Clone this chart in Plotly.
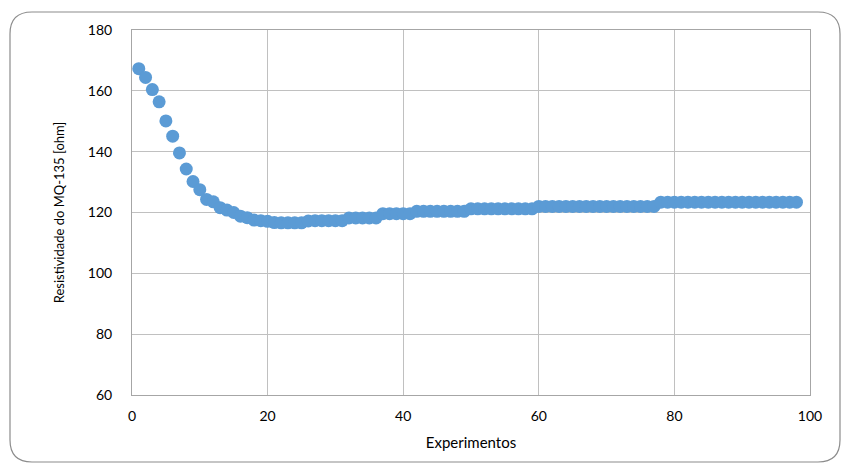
import plotly.graph_objects as go

experimentos = list(range(1, 99))
resistividade = (
    [167.3, 164.4, 160.4, 156.4, 150.1, 145.1, 139.6, 134.3, 130.2, 127.5,
     124.3, 123.5, 121.6, 120.8, 120.0, 118.8, 118.3, 117.5, 117.3, 117.1,
     116.7, 116.6, 116.6, 116.6, 116.6, 117.2, 117.3, 117.3, 117.3, 117.3,
     117.3]
    + [118.2] * 5      # 32-36
    + [119.6] * 5      # 37-41
    + [120.4] * 8      # 42-49
    + [121.2] * 10     # 50-59
    + [122.0] * 18     # 60-77
    + [123.4] * 21     # 78-98
)
x_ticks = [0, 20, 40, 60, 80, 100]
y_ticks = [60, 80, 100, 120, 140, 160, 180]

W, H = 845, 466
ML, MR, MT, MB = 132, 35, 30, 71
pw, ph = W - ML - MR, H - MT - MB

def px(x):
    return (x - ML) / pw

def py(y):
    return (H - MB - y) / ph

# rounded outer border (pixel coords -> paper)
x0, x1, y0, y1, r = 10, 840, 12, 462, 22
path = (
    f"M {px(x0 + r)} {py(y0)} L {px(x1 - r)} {py(y0)} "
    f"Q {px(x1)} {py(y0)} {px(x1)} {py(y0 + r)} "
    f"L {px(x1)} {py(y1 - r)} Q {px(x1)} {py(y1)} {px(x1 - r)} {py(y1)} "
    f"L {px(x0 + r)} {py(y1)} Q {px(x0)} {py(y1)} {px(x0)} {py(y1 - r)} "
    f"L {px(x0)} {py(y0 + r)} Q {px(x0)} {py(y0)} {px(x0 + r)} {py(y0)} Z"
)

fig = go.Figure(
    go.Scatter(
        x=experimentos,
        y=resistividade,
        mode="markers",
        marker=dict(size=13, color="#5B9BD5", line=dict(width=0)),
        showlegend=False,
    )
)

font_family = "Lato, 'Open Sans', sans-serif"
fig.update_layout(
    width=W,
    height=H,
    margin=dict(l=ML, r=MR, t=MT, b=MB),
    paper_bgcolor="white",
    plot_bgcolor="white",
    font=dict(family=font_family, size=14, color="#000000"),
    shapes=[
        dict(type="path", path=path, xref="paper", yref="paper",
             line=dict(color="#8C8C8C", width=1.2), layer="below"),
    ],
)
fig.update_xaxes(
    range=[0, 100],
    tickvals=x_ticks,
    showgrid=True,
    gridcolor="#C0C0C0",
    gridwidth=1,
    showline=True,
    linecolor="#A6A6A6",
    linewidth=1,
    mirror=True,
    zeroline=False,
    ticks="",
    ticklen=0,
    ticklabelstandoff=8,
    tickfont=dict(size=14),
    title=dict(text="Experimentos", font=dict(size=15), standoff=14),
)
fig.update_yaxes(
    range=[60, 180],
    tickvals=y_ticks,
    showgrid=True,
    gridcolor="#C0C0C0",
    gridwidth=1,
    showline=True,
    linecolor="#A6A6A6",
    linewidth=1,
    mirror=True,
    zeroline=False,
    ticks="outside",
    ticklen=16,
    tickcolor="rgba(0,0,0,0)",
    tickfont=dict(size=14),
    title=dict(text="Resistividade do MQ-135 [ohm]", font=dict(size=13), standoff=20),
)

fig.write_html("out.html")
